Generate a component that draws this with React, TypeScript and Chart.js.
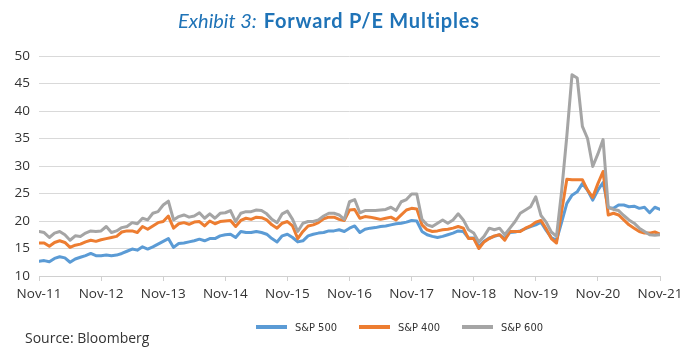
import React, { useEffect, useRef } from 'react';
import { Chart, registerables } from 'chart.js';

Chart.register(...registerables);

const tickLabels = ['Nov-11', 'Nov-12', 'Nov-13', 'Nov-14', 'Nov-15', 'Nov-16', 'Nov-17', 'Nov-18', 'Nov-19', 'Nov-20', 'Nov-21'];

const seriesNames = ['S&P 500', 'S&P 400', 'S&P 600'];
const seriesColors = ['#5b9bd5', '#ed7d31', '#a5a5a5'];

// Monthly forward P/E, Nov-11 .. Nov-21 (121 months)
const sp500 = [
  12.7, 12.8, 12.6, 13.2, 13.5, 13.3, 12.5, 13.1, 13.4, 13.7, 14.1, 13.7,
  13.7, 13.8, 13.7, 13.8, 14.1, 14.5, 14.9, 14.7, 15.3, 14.9, 15.3, 15.8,
  16.3, 16.8, 15.2, 15.9, 16.0, 16.2, 16.4, 16.7, 16.4, 16.8, 16.8, 17.3,
  17.5, 17.6, 17.0, 18.1, 17.9, 17.9, 18.1, 17.9, 17.6, 16.8, 16.2, 17.3,
  17.6, 17.0, 16.2, 16.4, 17.3, 17.6, 17.8, 17.9, 18.2, 18.2, 18.4, 18.1,
  18.7, 19.1, 17.9, 18.5, 18.7, 18.8, 19.0, 19.1, 19.3, 19.5, 19.6, 19.8,
  20.1, 20.0, 18.1, 17.5, 17.2, 17.0, 17.2, 17.5, 17.8, 18.2, 18.1, 16.9,
  16.9, 15.4, 16.3, 16.9, 17.2, 17.5, 16.8, 17.9, 18.0, 18.2, 18.6, 19.0,
  19.3, 19.8, 18.3, 17.0, 16.5, 19.8, 23.2, 24.7, 25.3, 26.8, 25.6, 23.8,
  25.6, 27.0, 22.4, 22.3, 22.9, 22.9, 22.6, 22.7, 22.3, 22.5, 21.5, 22.5,
  22.1,
];

const sp400 = [
  16.0, 16.0, 15.4, 16.1, 16.4, 16.1, 15.2, 15.6, 15.8, 16.2, 16.5, 16.3,
  16.6, 16.8, 17.0, 17.2, 18.0, 18.2, 18.2, 17.9, 19.0, 18.5, 19.1, 19.7,
  19.9, 20.9, 18.7, 19.5, 19.7, 19.4, 19.8, 19.9, 19.1, 20.0, 19.5, 19.9,
  20.0, 20.1, 19.0, 20.1, 20.5, 20.3, 20.7, 20.6, 20.2, 19.3, 18.7, 19.6,
  19.9, 19.1, 16.8, 18.1, 19.1, 19.3, 19.7, 20.4, 20.7, 20.7, 20.3, 20.1,
  22.0, 22.1, 20.5, 20.8, 20.7, 20.5, 20.3, 20.5, 20.7, 20.2, 21.1, 22.0,
  22.3, 22.2, 19.3, 18.4, 18.1, 18.2, 18.4, 18.5, 18.7, 19.0, 18.7, 16.8,
  16.8, 15.0, 16.2, 16.8, 17.3, 17.5, 16.5, 18.1, 18.1, 18.1, 18.7, 19.1,
  19.8, 20.1, 18.6, 16.8, 16.0, 21.8, 27.6, 27.5, 27.5, 27.5, 25.6, 24.3,
  26.8, 29.0, 21.1, 21.4, 21.1, 20.2, 19.3, 18.7, 18.1, 17.8, 17.8, 18.0,
  17.6,
];

const sp600 = [
  18.1, 17.9, 17.0, 17.8, 18.1, 17.5, 16.5, 17.3, 17.2, 17.8, 18.2, 18.1,
  18.2, 19.0, 17.9, 18.2, 18.8, 19.0, 19.7, 19.5, 20.5, 20.2, 21.4, 21.7,
  22.9, 23.6, 20.2, 20.8, 21.1, 20.7, 20.9, 21.5, 20.5, 21.3, 20.5, 21.4,
  21.5, 21.9, 19.9, 21.4, 21.7, 21.7, 22.0, 21.9, 21.3, 20.3, 19.7, 21.3,
  21.8, 20.3, 18.1, 19.6, 19.9, 19.9, 20.2, 20.9, 21.4, 21.4, 21.1, 20.3,
  23.5, 23.9, 21.5, 21.9, 21.9, 21.9, 22.0, 22.1, 22.5, 21.9, 23.5, 23.9,
  24.9, 24.9, 20.3, 19.3, 19.0, 19.6, 20.2, 19.6, 20.2, 21.3, 20.2, 18.4,
  17.8, 16.2, 17.2, 18.7, 18.4, 18.7, 17.5, 18.7, 19.9, 21.4, 22.0, 22.6,
  24.4, 21.0, 19.8, 18.0, 17.2, 25.5, 35.5, 46.6, 46.0, 37.2, 35.0, 29.9,
  32.2, 34.8, 22.5, 22.1, 21.9, 21.0, 20.2, 19.6, 18.7, 18.1, 17.5, 17.4,
  17.5,
];

const allSeries = [sp500, sp400, sp600];

const tickFont = { family: "'Open Sans', sans-serif", size: 13.5 };

export default function App() {
  const ref = useRef<HTMLCanvasElement>(null);

  useEffect(() => {
    const toPts = (arr: number[]) => arr.map((y, i) => ({ x: i, y }));
    const chart = new Chart(ref.current as HTMLCanvasElement, {
      type: 'line',
      data: {
        datasets: allSeries.map((s, k) => ({
          label: seriesNames[k],
          data: toPts(s),
          borderColor: seriesColors[k],
          backgroundColor: seriesColors[k],
          order: 3 - k,
        })),
      },
      options: {
        animation: false,
        responsive: false,
        devicePixelRatio: 1,
        layout: { padding: { left: 0, right: 34, top: 56, bottom: 56 } },
        elements: {
          point: { radius: 0 },
          line: { borderWidth: 3, tension: 0, borderJoinStyle: 'round', borderCapStyle: 'round' },
        },
        plugins: { legend: { display: false }, tooltip: { enabled: false }, title: { display: false } },
        scales: {
          x: {
            type: 'linear',
            min: 0,
            max: 120,
            ticks: {
              stepSize: 12,
              autoSkip: false,
              maxRotation: 0,
              padding: 5,
              color: '#333333',
              font: tickFont,
              callback: (v: any) => tickLabels[Math.round(Number(v) / 12)],
            },
            grid: { drawOnChartArea: false, drawTicks: true, tickLength: 5, color: '#d0d0d0' },
            border: { display: true, color: '#d0d0d0' },
            afterFit: (s: any) => { s.height = 30; },
          },
          y: {
            min: 10,
            max: 50,
            ticks: { stepSize: 5, padding: 9, color: '#333333', font: tickFont },
            grid: { drawTicks: false, color: '#d9d9d9' },
            border: { display: false },
            afterFit: (s: any) => { s.width = 39; },
          },
        },
      },
    });
    return () => chart.destroy();
  }, []);

  const legendPos = [256, 359, 462];

  return (
    <div style={{ position: 'absolute', left: 0, top: 0, width: 694, height: 362, background: '#fff', overflow: 'hidden' }}>
      <canvas ref={ref} width={694} height={362} style={{ position: 'absolute', left: 0, top: 0, width: 694, height: 362 }} />
      <div style={{ position: 'absolute', left: 178, top: 7, whiteSpace: 'nowrap', color: '#1f73b7', fontFamily: "Lato, 'Open Sans', sans-serif", fontSize: 20, lineHeight: '26px' }}>
        <span style={{ fontStyle: 'italic' }}>Exhibit 3:</span>
        <span style={{ fontWeight: 700, marginLeft: 7, letterSpacing: 0.8 }}>Forward P/E Multiples</span>
      </div>
      {seriesNames.map((n, k) => (
        <div key={n} style={{ position: 'absolute', left: legendPos[k], top: 318, height: 18, display: 'flex', alignItems: 'center', whiteSpace: 'nowrap' }}>
          <div style={{ width: 31, height: 4, background: seriesColors[k] }} />
          <span style={{ marginLeft: 8, fontFamily: "'DejaVu Sans Condensed', 'Liberation Sans Narrow', sans-serif", fontSize: 11, color: '#333' }}>{n}</span>
        </div>
      ))}
      <div style={{ position: 'absolute', left: 25, top: 328, whiteSpace: 'nowrap', fontFamily: "'Open Sans', sans-serif", fontSize: 14, color: '#333', lineHeight: '20px' }}>
        Source: Bloomberg
      </div>
    </div>
  );
}
